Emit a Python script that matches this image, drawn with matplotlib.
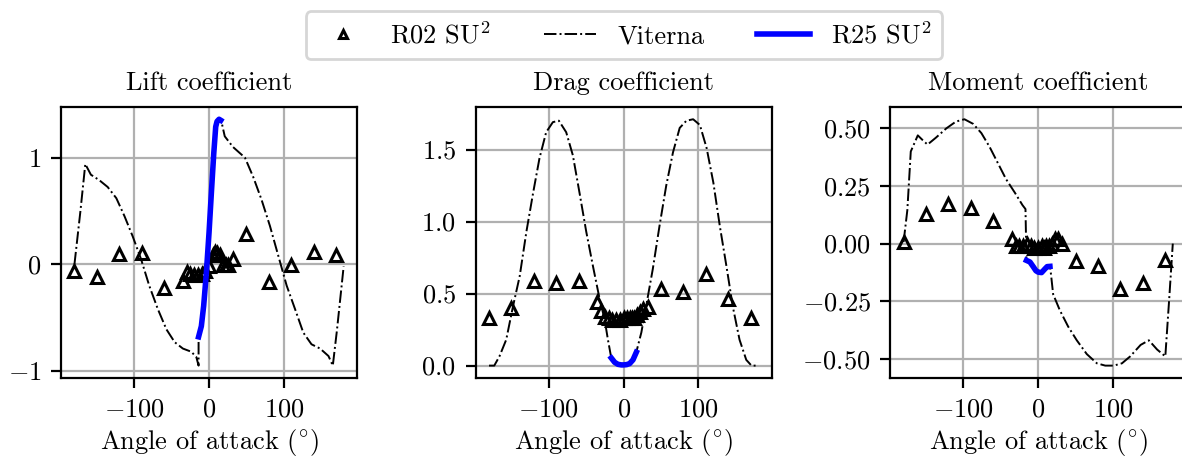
import matplotlib
matplotlib.use('Agg')
import matplotlib.pyplot as plt
import numpy as np

plt.rcParams['font.family'] = 'cmr10'
plt.rcParams['mathtext.fontset'] = 'cm'
plt.rcParams['axes.formatter.use_mathtext'] = True
plt.rcParams['font.size'] = 9.5

# R02 SU2 (triangulos)
alpha_r02 = [-180, -150, -120, -90, -60, -35, -30, -25, -20, -15, -10, -5, 0, 5, 8, 11, 14,
             18, 22, 26, 32, 50, 80, 110, 140, 170]
cl_r02 = [-0.06, -0.12, 0.10, 0.11, -0.22, -0.155, -0.07, -0.09, -0.10, -0.10, -0.09, -0.06, -0.02,
          0.09, 0.12, 0.11, 0.09, -0.01, -0.01, -0.01, 0.05, 0.28, -0.17, -0.01, 0.12, 0.09]
cd_r02 = [0.33, 0.40, 0.59, 0.57, 0.59, 0.44, 0.38, 0.34, 0.33, 0.32, 0.32, 0.32, 0.33,
          0.33, 0.33, 0.33, 0.33, 0.35, 0.37, 0.39, 0.41, 0.53, 0.51, 0.635, 0.46, 0.33]
cm_r02 = [0.007, 0.13, 0.17, 0.153, 0.10, 0.02, -0.01, -0.01, -0.01, 0.0, -0.01, -0.02, -0.02,
          -0.01, -0.02, -0.01, -0.01, 0.0, 0.02, 0.02, 0.0, -0.077, -0.099, -0.196, -0.169, -0.073]

# Viterna
alpha_vit_cl = [-180, -172, -165.5, -158, -147, -135.6, -124, -113, -102, -91, -80, -68.5, -57, -46,
                -35, -23.7, -17, -14, -14, -10.3, -7.2, -3.6, 0, 3.1, 6.3, 8.9, 10.7, 13.4, 16.5,
                21, 32, 48, 59, 70, 81.4, 92.6, 103.8, 115, 126, 137, 148.5, 159.7, 165.5, 171, 180]
cl_vit = [0.0, 0.5, 0.94, 0.84, 0.79, 0.725, 0.62, 0.45, 0.26, 0.05, -0.20, -0.42, -0.61, -0.73,
          -0.79, -0.82, -0.87, -0.95, -0.68, -0.58, -0.39, -0.08, 0.30, 0.67, 1.04, 1.29, 1.34, 1.35, 1.34,
          1.20, 1.10, 1.0, 0.82, 0.61, 0.36, 0.08, -0.20, -0.42, -0.64, -0.75, -0.79, -0.86, -0.95, -0.62, -0.02]

alpha_vit_cd = [-180, -173, -166, -157, -148, -139, -130, -121, -112.5, -103.6, -94.6, -86.6, -76.8,
                -67.9, -59, -50, -41, -32, -25.4, -21, -16.5, -12, -7.6, 0, 8, 12.5, 17, 19, 23.7,
                30, 39, 48, 57, 66, 75, 84, 93, 102, 111, 120, 128.6, 137.5, 146, 155, 164, 171, 180]
cd_vit = [0.0, 0.0, 0.065, 0.18, 0.41, 0.62, 0.93, 1.20, 1.44, 1.62, 1.69, 1.70, 1.62,
          1.46, 1.20, 0.93, 0.69, 0.46, 0.32, 0.18, 0.053, 0.023, 0.007, 0.005, 0.014, 0.04, 0.093, 0.135, 0.23,
          0.41, 0.67, 0.97, 1.25, 1.48, 1.65, 1.70, 1.71, 1.67, 1.51, 1.27, 0.97, 0.69, 0.41, 0.18, 0.04, 0.0, 0.0]

alpha_vit_cm = [-180, -175, -170.4, -161, -154.7, -148, -136.8, -123, -110, -98.6, -87, -76, -65, -54,
                -43, -31, -21, -17, -15.7, -11, -6.7, 0, 4.5, 9, 15.7, 17, 20, 29, 40, 51.6, 65, 78.5,
                89.7, 101, 112, 123, 137, 148, 159, 170, 175, 180]
cm_vit = [0.007, 0.145, 0.40, 0.47, 0.45, 0.43, 0.46, 0.50, 0.53, 0.54, 0.52, 0.48, 0.42, 0.35,
          0.28, 0.22, 0.167, 0.15, -0.073, -0.08, -0.10, -0.124, -0.126, -0.11, -0.099, -0.13, -0.22, -0.29,
          -0.36, -0.42, -0.48, -0.52, -0.53, -0.53, -0.52, -0.49, -0.44, -0.42, -0.46, -0.49, -0.25, 0.0]

# R25 SU2
alpha_r25_cl = [-14, -10.3, -7.2, -3.6, 0, 3.1, 6.3, 8.9, 10.7, 13.4, 15.7]
cl_r25 = [-0.68, -0.58, -0.39, -0.08, 0.30, 0.67, 1.04, 1.29, 1.34, 1.36, 1.35]
alpha_r25_cd = [-16.5, -12, -7.6, -3, 0, 4, 8, 12.5, 17]
cd_r25 = [0.053, 0.023, 0.009, 0.005, 0.005, 0.007, 0.014, 0.04, 0.093]
alpha_r25_cm = [-15.7, -11, -6.7, -3, 0, 4.5, 9, 12, 15.7]
cm_r25 = [-0.073, -0.08, -0.10, -0.118, -0.124, -0.126, -0.11, -0.10, -0.099]

titulos = ['Lift coefficient', 'Drag coefficient', 'Moment coefficient']
datos = [
    (cl_r02, alpha_vit_cl, cl_vit, alpha_r25_cl, cl_r25),
    (cd_r02, alpha_vit_cd, cd_vit, alpha_r25_cd, cd_r25),
    (cm_r02, alpha_vit_cm, cm_vit, alpha_r25_cm, cm_r25),
]

fig, axes = plt.subplots(1, 3, figsize=(5.91, 2.285), dpi=200)
fig.subplots_adjust(left=0.0516, right=1.0036, bottom=0.173, top=0.766, wspace=0.4)

for ax, titulo, (r02, a_vit, vit, a_r25, r25) in zip(axes, titulos, datos):
    ax.plot(alpha_r02, r02, linestyle='none', marker='^', mfc='none', mec='black',
            ms=4.5, mew=1.1, label=r'R02 SU$^2$')
    ax.plot(a_vit, vit, 'k-.', lw=0.7, label='Viterna')
    ax.plot(a_r25, r25, color='blue', lw=2, label=r'R25 SU$^2$')
    ax.set_title(titulo, fontsize=9.5)
    ax.set_xlabel(r'Angle of attack $(^{\circ})$', labelpad=2)
    ax.grid(True)
    ax.set_axisbelow(True)

axes[0].set_yticks([-1, 0, 1])
axes[1].set_yticks([0.0, 0.5, 1.0, 1.5])
axes[2].set_yticks([-0.5, -0.25, 0.0, 0.25, 0.5])

handles, labels = axes[0].get_legend_handles_labels()
fig.legend(handles, labels, loc='center', bbox_to_anchor=(0.528, 0.923), ncol=3,
           markerscale=0.6, columnspacing=2.0)

fig.savefig('out.png', dpi=200)
